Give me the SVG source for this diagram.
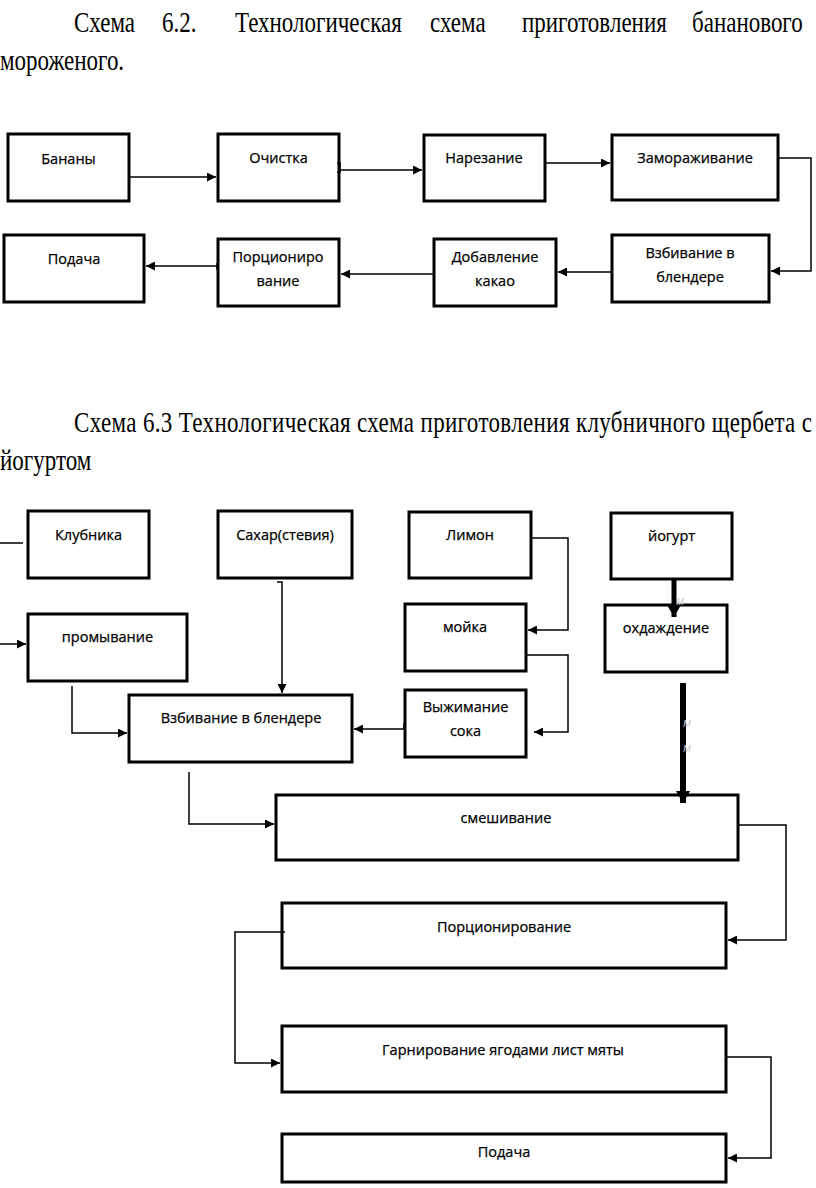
<svg xmlns="http://www.w3.org/2000/svg" width="816" height="1188" viewBox="0 0 816 1188">
<style>
.box{fill:#fff;stroke:#000;stroke-width:3}
.lbl{font-family:"Open Sans","Noto Sans",sans-serif;font-size:14.5px;fill:#000;stroke:#000;stroke-width:0.25;text-anchor:middle}
.ttl{font-family:"Liberation Serif","Times New Roman",serif;font-size:23px;fill:#000}
.ln{fill:none;stroke:#000;stroke-width:1.5}
.thick{fill:none;stroke:#000}
.ghost{font-family:"Open Sans",sans-serif;font-style:italic;font-size:12px;fill:#d0d0d0}
</style>
<defs>
<marker id="ah" viewBox="0 0 10 10" refX="10" refY="5" markerWidth="9" markerHeight="9" markerUnits="userSpaceOnUse" orient="auto">
<path d="M0,0 L10,5 L0,10 z" fill="#000"/>
</marker>
<marker id="ahT" viewBox="0 0 10 10" refX="10" refY="5" markerWidth="12" markerHeight="14" markerUnits="userSpaceOnUse" orient="auto" preserveAspectRatio="none">
<path d="M0,0 L10,5 L0,10 z" fill="#000"/>
</marker>
</defs>
<rect width="816" height="1188" fill="#fff"/>

<!-- Titles -->
<g id="title1" transform="translate(0,32) scale(1,1.3)">
<text class="ttl" x="74" y="0">Схема</text>
<text class="ttl" x="162" y="0">6.2.</text>
<text class="ttl" x="235" y="0">Технологическая</text>
<text class="ttl" x="430" y="0">схема</text>
<text class="ttl" x="522" y="0">приготовления</text>
<text class="ttl" x="692" y="0">бананового</text>
</g>
<g transform="translate(0,70) scale(1,1.3)">
<text class="ttl" x="0" y="0">мороженого.</text>
</g>
<g id="title2" transform="translate(0,432) scale(1,1.3)">
<text class="ttl" x="74" y="0" textLength="738" lengthAdjust="spacing">Схема 6.3 Технологическая схема приготовления клубничного щербета с</text>
</g>
<g transform="translate(0,470) scale(1,1.3)">
<text class="ttl" x="0" y="0">йогуртом</text>
</g>

<!-- Scheme 6.2 nodes -->
<g id="n-bananas"><rect class="box" x="8" y="134" width="121" height="67"/><text class="lbl" x="68.5" y="164">Бананы</text></g>
<g id="n-ochistka"><rect class="box" x="218" y="134" width="121" height="67"/><text class="lbl" x="278.5" y="163">Очистка</text></g>
<g id="n-narezanie"><rect class="box" x="424" y="135" width="121" height="66"/><text class="lbl" x="484" y="163">Нарезание</text></g>
<g id="n-zamorazhivanie"><rect class="box" x="612" y="135" width="166" height="65"/><text class="lbl" x="695" y="163">Замораживание</text></g>
<g id="n-vzbivanie1"><rect class="box" x="612" y="235" width="157" height="67"/><text class="lbl" x="690" y="258">Взбивание в</text><text class="lbl" x="690" y="282">блендере</text></g>
<g id="n-kakao"><rect class="box" x="434" y="239" width="122" height="67"/><text class="lbl" x="495" y="262">Добавление</text><text class="lbl" x="495" y="286">какао</text></g>
<g id="n-porcion1"><rect class="box" x="218" y="239" width="121" height="67"/><text class="lbl" x="278" y="262">Порциониро</text><text class="lbl" x="278" y="286">вание</text></g>
<g id="n-podacha1"><rect class="box" x="4" y="235" width="140" height="67"/><text class="lbl" x="74" y="264">Подача</text></g>

<!-- Scheme 6.3 nodes -->
<g id="n-klubnika"><rect class="box" x="28" y="511" width="121" height="67"/><text class="lbl" x="88.5" y="540">Клубника</text></g>
<g id="n-sahar"><rect class="box" x="218" y="511" width="134" height="67"/><text class="lbl" x="285" y="540">Сахар(стевия)</text></g>
<g id="n-limon"><rect class="box" x="409" y="512" width="122" height="66"/><text class="lbl" x="470" y="540">Лимон</text></g>
<g id="n-yogurt"><rect class="box" x="611" y="513" width="121" height="66"/><text class="lbl" x="671.5" y="541">йогурт</text></g>
<g id="n-promyvanie"><rect class="box" x="28" y="614" width="159" height="67"/><text class="lbl" x="107.5" y="642">промывание</text></g>
<g id="n-moyka"><rect class="box" x="405" y="604" width="121" height="67"/><text class="lbl" x="465" y="632">мойка</text></g>
<g id="n-ohlazhdenie"><rect class="box" x="605" y="605" width="122" height="67"/><text class="lbl" x="666" y="633">охдаждение</text></g>
<g id="n-vzbivanie2"><rect class="box" x="129" y="695" width="223" height="67"/><text class="lbl" x="241" y="723">Взбивание в блендере</text></g>
<g id="n-vyzhimanie"><rect class="box" x="405" y="690" width="121" height="67"/><text class="lbl" x="465.5" y="712">Выжимание</text><text class="lbl" x="465.5" y="736">сока</text></g>
<g id="n-smeshivanie"><rect class="box" x="276" y="795" width="462" height="65"/><text class="lbl" x="506" y="823">смешивание</text></g>
<g id="n-porcion2"><rect class="box" x="282" y="903" width="444" height="65"/><text class="lbl" x="504" y="932">Порционирование</text></g>
<g id="n-garnir"><rect class="box" x="282" y="1026" width="444" height="66"/><text class="lbl" x="503" y="1055">Гарнирование ягодами лист мяты</text></g>
<g id="n-podacha2"><rect class="box" x="282" y="1134" width="444" height="48"/><text class="lbl" x="504" y="1157">Подача</text></g>

<!-- Connectors -->
<g id="connectors">
<path class="ln" d="M130,177 H216" marker-end="url(#ah)"/>
<path class="ln" d="M337,163 H340 V172 H337"/>
<path class="ln" d="M340,170 H422" marker-end="url(#ah)"/>
<path class="ln" d="M546,163 H610" marker-end="url(#ah)"/>
<path class="ln" d="M779,158 H811 V271 H771" marker-end="url(#ah)"/>
<path class="ln" d="M611,272 H558" marker-end="url(#ah)"/>
<path class="ln" d="M433,274 H341" marker-end="url(#ah)"/>
<path class="ln" d="M217,263 V270"/>
<path class="ln" d="M217,266 H146" marker-end="url(#ah)"/>

<path class="ln" d="M0,543 H23"/>
<path class="ln" d="M0,644 H26" marker-end="url(#ah)"/>
<path class="ln" d="M277,582 H282 V693" marker-end="url(#ah)"/>
<path class="ln" d="M72,686 V733 H127" marker-end="url(#ah)"/>
<path class="ln" d="M404,723 V729 H354" marker-end="url(#ah)"/>
<path class="ln" d="M532,538 H568 V630 H528" marker-end="url(#ah)"/>
<path class="ln" d="M527,655 H568 V732 H534" marker-end="url(#ah)"/>
<path class="thick" stroke-width="5" d="M674,580 V617" marker-end="url(#ahT)"/>
<path class="thick" stroke-width="6" d="M683,683 V803" marker-end="url(#ahT)"/>
<path class="ln" d="M189,772 V824 H274" marker-end="url(#ah)"/>
<path class="ln" d="M739,825 H786 V940 H728" marker-end="url(#ah)"/>
<path class="ln" d="M285,932 H235 V1063 H280" marker-end="url(#ah)"/>
<path class="ln" d="M727,1057 H771 V1158 H728" marker-end="url(#ah)"/>
</g>

<!-- faint artefact glyphs -->
<text class="ghost" x="676" y="605">м</text>
<text class="ghost" x="683" y="727">м</text>
<text class="ghost" x="683" y="752">м</text>
</svg>
